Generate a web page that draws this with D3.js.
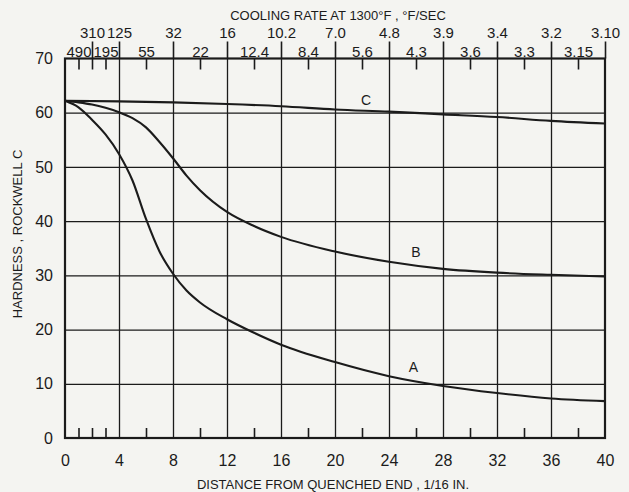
<!DOCTYPE html>
<html>
<head>
<meta charset="utf-8">
<script src="https://cdn.jsdelivr.net/npm/d3@7/dist/d3.min.js"></script>
<style>
	body { margin: 0; background: #f4f4f1; }
	svg { display: block; font-family: "Liberation Sans", Arial, sans-serif; }
	.axis path { display: none; }
	.axis line { stroke: #1b1b1b; stroke-width: 1.6; }
	.axis text { fill: #1b1b1b; font-family: "Liberation Sans", Arial, sans-serif; }
	.grid line { stroke: #1b1b1b; stroke-width: 1.3; }
	.grid path { display: none; }
</style>
</head>
<body>
<svg id="chart" width="629" height="492"></svg>
<script>
// distance from quenched end, 1/16 in.
var distance = [0, 1, 2, 3, 4, 5, 6, 7, 8, 9, 10, 12, 14, 16, 20, 24, 28, 32, 36, 40];
// hardness, rockwell C
var hardnessA = [62.2, 61.0, 58.7, 56.0, 52.4, 47.5, 40.4, 34.4, 30.3, 27.2, 25.0, 21.9, 19.4, 17.2, 14.0, 11.4, 9.6, 8.3, 7.3, 6.8];
var hardnessB = [62.2, 61.9, 61.5, 60.9, 60.1, 59.0, 57.3, 54.6, 51.6, 48.4, 45.7, 41.7, 39.1, 37.1, 34.4, 32.5, 31.2, 30.5, 30.1, 29.8];
var distanceC = [0, 4, 8, 12, 16, 20, 24, 28, 32, 36, 40];
var hardnessC = [62.2, 62.1, 61.9, 61.6, 61.2, 60.6, 60.2, 59.7, 59.2, 58.5, 58.0];

var curveNames = ["A", "B", "C"];
var curveLabelX = [25.8, 26.0, 22.3];
var curveLabelY = [13.1, 34.2, 62.4];

// cooling rate at 1300 F, upper row at the major positions, lower row in between
var rateMajorPos = [2, 4, 8, 12, 16, 20, 24, 28, 32, 36, 40];
var rateMajor = ["310", "125", "32", "16", "10.2", "7.0", "4.8", "3.9", "3.4", "3.2", "3.10"];
var rateMinorPos = [1, 3, 6, 10, 14, 18, 22, 26, 30, 34, 38];
var rateMinor = ["490", "195", "55", "22", "12.4", "8.4", "5.6", "4.3", "3.6", "3.3", "3.15"];

var xTicks = [0, 4, 8, 12, 16, 20, 24, 28, 32, 36, 40];
var yTicks = [0, 10, 20, 30, 40, 50, 60, 70];
var smallTicks = [1, 2, 3, 6, 10, 14, 18, 22, 26, 30, 34, 38];

var ink = "#1b1b1b";
var plotLeft = 65, plotRight = 605, plotTop = 58.5, plotBottom = 438;

var svg = d3.select("#chart");

var x = d3.scaleLinear().domain([0, 40]).range([plotLeft, plotRight]);
var y = d3.scaleLinear().domain([0, 70]).range([plotBottom, plotTop]);

// grid
svg.append("g").attr("class", "grid")
	.attr("transform", "translate(0," + plotBottom + ")")
	.call(d3.axisBottom(x).tickValues(xTicks.slice(1, -1)).tickSize(-(plotBottom - plotTop)).tickFormat(""));
svg.append("g").attr("class", "grid")
	.attr("transform", "translate(" + plotLeft + ",0)")
	.call(d3.axisLeft(y).tickValues(yTicks.slice(1, -1)).tickSize(-(plotRight - plotLeft)).tickFormat(""));

// small inner ticks on bottom and top edges
svg.append("g").attr("class", "axis")
	.attr("transform", "translate(0," + plotBottom + ")")
	.call(d3.axisBottom(x).tickValues(smallTicks).tickSize(-10).tickFormat(""));
svg.append("g").attr("class", "axis")
	.attr("transform", "translate(0," + plotTop + ")")
	.call(d3.axisTop(x).tickValues(smallTicks).tickSize(-11).tickFormat(""));

// bottom labels
svg.append("g").attr("class", "axis")
	.attr("transform", "translate(0," + plotBottom + ")")
	.call(d3.axisBottom(x).tickValues(xTicks).tickSize(0).tickPadding(17))
	.selectAll("text").style("font-size", "16px");

// left labels
svg.append("g").attr("class", "axis")
	.attr("transform", "translate(" + plotLeft + ",0)")
	.call(d3.axisLeft(y).tickValues(yTicks).tickSize(0).tickPadding(12))
	.selectAll("text").style("font-size", "16px");

// top: cooling rate
svg.append("g").attr("class", "axis")
	.attr("transform", "translate(0," + plotTop + ")")
	.call(d3.axisTop(x).tickValues(rateMajorPos).tickSize(17).tickPadding(4)
		.tickFormat(function(d, i) { return rateMajor[i]; }))
	.selectAll("text").style("font-size", "15px");
svg.append("g").attr("class", "axis")
	.attr("transform", "translate(0," + plotTop + ")")
	.call(d3.axisTop(x).tickValues(rateMinorPos).tickSize(0).tickPadding(2)
		.tickFormat(function(d, i) { return rateMinor[i]; }))
	.selectAll("text").style("font-size", "15px");

// frame
svg.append("rect")
	.attr("x", plotLeft).attr("y", plotTop)
	.attr("width", plotRight - plotLeft).attr("height", plotBottom - plotTop)
	.attr("fill", "none").attr("stroke", ink).attr("stroke-width", 2.2);

// curves
var line = d3.line()
	.x(function(d) { return x(d[0]); })
	.y(function(d) { return y(d[1]); })
	.curve(d3.curveMonotoneX);

var series = [
	d3.zip(distance, hardnessA),
	d3.zip(distance, hardnessB),
	d3.zip(distanceC, hardnessC)
];

svg.append("g").selectAll("path")
	.data(series)
	.enter().append("path")
	.attr("d", line)
	.attr("fill", "none")
	.attr("stroke", ink)
	.attr("stroke-width", 2.1);

svg.append("g").selectAll("text")
	.data(curveNames)
	.enter().append("text")
	.attr("x", function(d, i) { return x(curveLabelX[i]); })
	.attr("y", function(d, i) { return y(curveLabelY[i]); })
	.attr("dy", "0.35em")
	.attr("text-anchor", "middle")
	.attr("fill", ink)
	.style("font-size", "14px")
	.text(function(d) { return d; });

// titles
svg.append("text")
	.attr("x", 338).attr("y", 19.5)
	.attr("text-anchor", "middle").attr("fill", ink)
	.style("font-size", "13px")
	.text("COOLING RATE AT 1300°F , °F/SEC");

svg.append("text")
	.attr("x", 333).attr("y", 489)
	.attr("text-anchor", "middle").attr("fill", ink)
	.style("font-size", "13px")
	.text("DISTANCE FROM QUENCHED END , 1/16 IN.");

svg.append("text")
	.attr("transform", "translate(22,234) rotate(-90)")
	.attr("text-anchor", "middle").attr("fill", ink)
	.style("font-size", "13px")
	.text("HARDNESS , ROCKWELL C");
</script>
</body>
</html>
